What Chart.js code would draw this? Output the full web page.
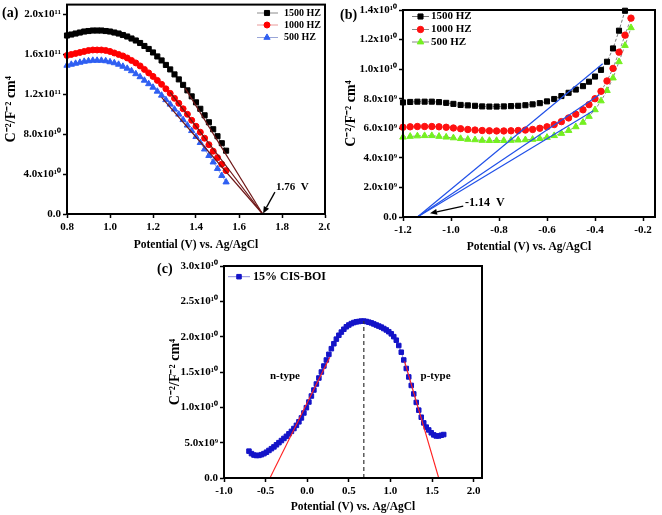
<!DOCTYPE html>
<html><head><meta charset="utf-8">
<script src="https://cdn.jsdelivr.net/npm/chart.js@4.4.1/dist/chart.umd.min.js"></script>
<style>
html,body{margin:0;padding:0;background:#fff;}
body{width:662px;height:515px;position:relative;overflow:hidden;}
canvas{position:absolute;}
.pl{position:absolute;font:bold 14px "Liberation Serif",serif;color:#000;line-height:1;}
</style></head><body>
<canvas id="ca" width="330" height="255" style="left:0;top:0"></canvas>
<canvas id="cb" width="332" height="255" style="left:330px;top:0"></canvas>
<canvas id="cc" width="350" height="260" style="left:150px;top:255px"></canvas>
<div class="pl" style="left:2px;top:6px">(a)</div>
<div class="pl" style="left:340px;top:8px">(b)</div>
<div class="pl" style="left:157px;top:262px">(c)</div>
<script>
// ---------- Panel (a) data (y in units of 1e11) ----------
const xA = [0.80,0.82,0.84,0.86,0.88,0.90,0.92,0.94,0.96,0.98,1.00,1.02,1.04,1.06,1.08,1.10,1.12,1.14,1.16,1.18,1.20,1.22,1.24,1.26,1.28,1.30,1.32,1.34,1.36,1.38,1.40,1.42,1.44,1.46,1.48,1.50,1.52,1.54];
const yA1500 = [1.79,1.80,1.81,1.82,1.83,1.835,1.84,1.84,1.84,1.835,1.83,1.82,1.81,1.795,1.78,1.76,1.74,1.715,1.685,1.655,1.62,1.58,1.54,1.495,1.45,1.40,1.35,1.295,1.24,1.18,1.12,1.055,0.99,0.92,0.85,0.78,0.71,0.635];
const yA1000 = [1.59,1.60,1.61,1.62,1.63,1.64,1.645,1.645,1.645,1.64,1.63,1.615,1.60,1.585,1.565,1.54,1.515,1.485,1.45,1.415,1.38,1.34,1.30,1.255,1.21,1.16,1.11,1.055,1.00,0.94,0.88,0.82,0.76,0.695,0.63,0.565,0.50,0.435];
const yA500 = [1.49,1.50,1.51,1.52,1.53,1.535,1.54,1.54,1.54,1.535,1.525,1.515,1.50,1.48,1.46,1.435,1.405,1.375,1.34,1.305,1.27,1.23,1.19,1.145,1.10,1.05,1.00,0.945,0.89,0.835,0.775,0.715,0.65,0.585,0.52,0.455,0.385,0.32];
const fitA = [[1.35,1.26,1.71,0],[1.28,1.22,1.71,0],[1.24,1.17,1.71,0]];
const xTicksA = [0.8,1.0,1.2,1.4,1.6,1.8,2.0];
const xLabelsA = ['0.8','1.0','1.2','1.4','1.6','1.8','2.0'];
const yTicksA = [0,0.4,0.8,1.2,1.6,2.0];
const yLabelsA = ['0.0','4.0x10¹⁰','8.0x10¹⁰','1.2x10¹¹','1.6x10¹¹','2.0x10¹¹'];

// ---------- Panel (b) data (y in units of 1e9) ----------
const xB = [-1.2,-1.17,-1.14,-1.11,-1.08,-1.05,-1.02,-0.99,-0.96,-0.93,-0.9,-0.87,-0.84,-0.81,-0.78,-0.75,-0.72,-0.69,-0.66,-0.63,-0.6,-0.57,-0.54,-0.51,-0.48,-0.45,-0.425,-0.4,-0.375,-0.35,-0.325,-0.3,-0.275,-0.25];
const yB1500 = [7.75,7.78,7.8,7.8,7.8,7.77,7.72,7.65,7.58,7.55,7.52,7.48,7.47,7.47,7.48,7.5,7.52,7.56,7.62,7.7,7.82,7.98,8.18,8.4,8.62,8.85,9.15,9.5,9.95,10.5,11.4,12.6,13.95];
const yB1000 = [6.07,6.1,6.12,6.12,6.12,6.1,6.07,6.02,5.97,5.92,5.88,5.85,5.83,5.82,5.82,5.83,5.85,5.88,5.92,6.0,6.1,6.25,6.45,6.7,6.95,7.25,7.6,8.0,8.5,9.2,10.05,11.15,12.3,13.45];
const yB500 = [5.4,5.45,5.48,5.5,5.5,5.45,5.4,5.35,5.3,5.25,5.22,5.18,5.17,5.17,5.17,5.18,5.2,5.22,5.25,5.3,5.38,5.5,5.65,5.85,6.1,6.4,6.8,7.25,7.85,8.55,9.4,10.5,11.6,12.8];
const fitB = [[-1.14,0,-0.368,10.37],[-1.14,0,-0.382,8.27],[-1.14,0,-0.407,7.19]];
const xTicksB = [-1.2,-1.0,-0.8,-0.6,-0.4,-0.2];
const xLabelsB = ['-1.2','-1.0','-0.8','-0.6','-0.4','-0.2'];
const yTicksB = [0,2,4,6,8,10,12,14];
const yLabelsB = ['0.0','2.0x10⁹','4.0x10⁹','6.0x10⁹','8.0x10⁹','1.0x10¹⁰','1.2x10¹⁰','1.4x10¹⁰'];

// ---------- Panel (c) data (y in units of 1e10) ----------
const xC = [-0.70,-0.67,-0.64,-0.61,-0.58,-0.55,-0.52,-0.49,-0.46,-0.43,-0.40,-0.37,-0.34,-0.31,-0.28,-0.25,-0.22,-0.19,-0.16,-0.13,-0.10,-0.07,-0.04,-0.01,0.02,0.05,0.08,0.11,0.14,0.17,0.20,0.23,0.26,0.29,0.32,0.35,0.38,0.41,0.44,0.47,0.50,0.53,0.56,0.59,0.62,0.65,0.68,0.71,0.74,0.77,0.80,0.83,0.86,0.89,0.92,0.95,0.98,1.01,1.04,1.07,1.10,1.13,1.16,1.19,1.22,1.25,1.28,1.31,1.34,1.37,1.40,1.43,1.46,1.49,1.52,1.55,1.58,1.61,1.64];
const yC = [0.38,0.345,0.325,0.318,0.32,0.33,0.345,0.365,0.39,0.415,0.44,0.47,0.50,0.53,0.56,0.59,0.625,0.66,0.70,0.745,0.795,0.85,0.92,0.995,1.075,1.16,1.245,1.33,1.415,1.50,1.585,1.67,1.75,1.83,1.90,1.965,2.02,2.065,2.105,2.14,2.165,2.185,2.20,2.21,2.215,2.22,2.22,2.215,2.205,2.195,2.18,2.165,2.15,2.135,2.115,2.095,2.07,2.04,2.0,1.95,1.875,1.78,1.67,1.55,1.43,1.31,1.19,1.07,0.96,0.86,0.78,0.72,0.68,0.64,0.61,0.595,0.595,0.605,0.615];
const fitC = [[-0.448,0,0.271,1.71],[1.17,1.65,1.58,0]];
const peakC = [0.68,0,0.68,2.22];
const xTicksC = [-1.0,-0.5,0.0,0.5,1.0,1.5,2.0];
const xLabelsC = ['-1.0','-0.5','0.0','0.5','1.0','1.5','2.0'];
const yTicksC = [0,0.5,1.0,1.5,2.0,2.5,3.0];
const yLabelsC = ['0.0','5.0x10⁹','1.0x10¹⁰','1.5x10¹⁰','2.0x10¹⁰','2.5x10¹⁰','3.0x10¹⁰'];

// ---------- helpers ----------
const SERIF = '"Liberation Serif", "Times New Roman", serif';
Chart.defaults.font.family = SERIF;
Chart.defaults.font.weight = 'bold';
Chart.defaults.color = '#000';
Chart.defaults.animation = false;

const pts = (xs, ys) => ys.map((y, i) => ({x: xs[i], y}));
function series(label, data, color, style, r, lineColor, dash) {
  return {label, data, borderColor: lineColor, borderWidth: 1, borderDash: dash || [],
    backgroundColor: color, pointStyle: style, pointRadius: r, pointHoverRadius: r,
    pointBackgroundColor: color, pointBorderColor: color, pointBorderWidth: 1,
    fill: false, tension: 0, order: 1, clip: false};
}
function seg(s, color, dash, w) {
  return {data: [{x: s[0], y: s[1]}, {x: s[2], y: s[3]}], borderColor: color, borderWidth: w || 1.2,
    borderDash: dash || [], pointRadius: 0, pointHoverRadius: 0, fill: false, order: 0, clip: false};
}
function xAxis(min, max, vals, labs, h, tb) {
  return {type: 'linear', position: 'bottom', min, max,
    afterBuildTicks: s => { s.ticks = vals.map(v => ({value: v})); },
    afterFit: s => { s.height = h; s.paddingLeft = 0; s.paddingRight = 0; },
    ticks: {autoSkip: false, maxRotation: 0, minRotation: 0, padding: 3, color: '#000',
      font: {size: 11, weight: 'bold'}, callback: (v, i) => labs[i]},
    grid: {drawOnChartArea: false, drawTicks: true, tickLength: 4, tickWidth: 1.5, tickColor: '#000'},
    border: {display: true, color: '#000', width: 2},
    title: {display: true, text: 'Potential (V) vs. Ag/AgCl', color: '#000',
      font: {size: 11.5, weight: 'bold'}, padding: {top: 0, bottom: tb}}};
}
function yAxis(min, max, vals, labs, w, tp) {
  return {type: 'linear', position: 'left', min, max,
    afterBuildTicks: s => { s.ticks = vals.map(v => ({value: v})); },
    afterFit: s => { s.width = w; s.paddingTop = 0; s.paddingBottom = 0; },
    ticks: {autoSkip: false, padding: 2, color: '#000', font: {size: 11, weight: 'bold'},
      callback: (v, i) => labs[i]},
    grid: {drawOnChartArea: false, drawTicks: true, tickLength: 4, tickWidth: 1.5, tickColor: '#000'},
    border: {display: true, color: '#000', width: 2},
    title: {display: true, text: 'C⁻²/F⁻² cm⁴', color: '#000',
      font: {size: 14, weight: 'bold'}, padding: {top: tp, bottom: 0}}};
}

const deco = {
  id: 'deco',
  afterDatasetsDraw(chart, args, o) {
    const ctx = chart.ctx, xs = chart.scales.x, ys = chart.scales.y, a = chart.chartArea;
    ctx.save();
    ctx.strokeStyle = '#000'; ctx.lineWidth = 2;
    ctx.strokeRect(a.left, a.top, a.right - a.left, a.bottom - a.top);
    (o.arrows || []).forEach(ar => {
      const x0 = xs.getPixelForValue(ar.from[0]), y0 = ys.getPixelForValue(ar.from[1]);
      const x1 = xs.getPixelForValue(ar.to[0]), y1 = ys.getPixelForValue(ar.to[1]);
      const ang = Math.atan2(y1 - y0, x1 - x0), hl = 7, hw = 3;
      const bx = x1 - hl * Math.cos(ang), by = y1 - hl * Math.sin(ang);
      ctx.strokeStyle = '#000'; ctx.fillStyle = '#000'; ctx.lineWidth = 1.3;
      ctx.beginPath(); ctx.moveTo(x0, y0); ctx.lineTo(bx, by); ctx.stroke();
      ctx.beginPath(); ctx.moveTo(x1, y1);
      ctx.lineTo(bx + hw * Math.sin(ang), by - hw * Math.cos(ang));
      ctx.lineTo(bx - hw * Math.sin(ang), by + hw * Math.cos(ang));
      ctx.closePath(); ctx.fill();
    });
    (o.texts || []).forEach(t => {
      ctx.font = t.font; ctx.fillStyle = '#000'; ctx.textAlign = t.align || 'left'; ctx.textBaseline = 'middle';
      ctx.fillText(t.text, xs.getPixelForValue(t.x), ys.getPixelForValue(t.y));
    });
    const L = o.legend;
    if (L) {
      L.rows.forEach((yy, k) => {
        const ds = chart.data.datasets[k];
        ctx.strokeStyle = ds.borderColor; ctx.lineWidth = 1; ctx.setLineDash([]);
        ctx.beginPath(); ctx.moveTo(L.x0, yy); ctx.lineTo(L.x1, yy); ctx.stroke();
        ctx.fillStyle = ds.pointBackgroundColor; ctx.strokeStyle = ds.pointBorderColor;
        Chart.helpers.drawPoint(ctx, {pointStyle: ds.pointStyle, rotation: 0, radius: ds.pointRadius, borderWidth: 1}, L.mx, yy);
        ctx.font = L.font; ctx.fillStyle = '#000'; ctx.textAlign = 'left'; ctx.textBaseline = 'middle';
        ctx.fillText(ds.label, L.tx, yy);
      });
    }
    ctx.restore();
  }
};
const basePlugins = extra => Object.assign({legend: {display: false}, tooltip: {enabled: false}}, {deco: extra});

// ---------- Chart (a) ----------
new Chart(document.getElementById('ca'), {
  type: 'line',
  data: {datasets: [
    series('1500 HZ', pts(xA, yA1500), '#000000', 'rect', 3.6, '#8c8c8c'),
    series('1000 HZ', pts(xA, yA1000), '#ff0000', 'circle', 3, '#e99a9a'),
    series('500 HZ', pts(xA, yA500), '#2f5ff2', 'triangle', 3.6, '#9aa6d8'),
    seg(fitA[0], '#6e1616'), seg(fitA[1], '#6e1616'), seg(fitA[2], '#6e1616')
  ]},
  options: {responsive: false, animation: false,
    layout: {padding: {left: 0, right: 5, top: 3, bottom: 0}},
    plugins: basePlugins({
      texts: [{x: 1.772, y: 0.269, text: '1.76  V', font: 'bold 11px ' + SERIF}],
      arrows: [{from: [1.767, 0.22], to: [1.712, 0.005]}],
      legend: {rows: [13, 25, 37.5], x0: 257, x1: 278, mx: 267, tx: 284, font: 'bold 10px ' + SERIF}
    }),
    scales: {x: xAxis(0.8, 2.0, xTicksA, xLabelsA, 41, 3), y: yAxis(0, 2.1, yTicksA, yLabelsA, 67, 3)}
  },
  plugins: [deco]
});

// ---------- Chart (b) ----------
new Chart(document.getElementById('cb'), {
  type: 'line',
  data: {datasets: [
    series('1500 HZ', pts(xB, yB1500), '#000000', 'rect', 3.6, '#777777', [3, 2]),
    series('1000 HZ', pts(xB, yB1000), '#ff1010', 'circle', 3.2, '#888888', [3, 2]),
    series('500 HZ', pts(xB, yB500), '#74f020', 'triangle', 3.8, '#888888', [3, 2]),
    seg(fitB[0], '#2050e8'), seg(fitB[1], '#2050e8'), seg(fitB[2], '#2050e8')
  ]},
  options: {responsive: false, animation: false,
    layout: {padding: {left: 0, right: 7, top: 10, bottom: 0}},
    plugins: basePlugins({
      texts: [{x: -0.942, y: 0.95, text: '-1.14  V', font: 'bold 12px ' + SERIF}],
      arrows: [{from: [-0.949, 0.74], to: [-1.0875, 0.25]}],
      legend: {rows: [16.5, 29.5, 42], x0: 82, x1: 99, mx: 90.5, tx: 101, font: 'bold 11px ' + SERIF}
    }),
    scales: {x: xAxis(-1.2, -0.15, xTicksB, xLabelsB, 38, 1), y: yAxis(0, 14, yTicksB, yLabelsB, 73, 13)}
  },
  plugins: [deco]
});

// ---------- Chart (c) ----------
new Chart(document.getElementById('cc'), {
  type: 'line',
  data: {datasets: [
    series('15% CIS-BOI', pts(xC, yC), '#1414c8', 'rect', 3.2, '#8c8cdc'),
    seg(fitC[0], '#ff2020', [], 1.1), seg(fitC[1], '#ff2020', [], 1.1),
    seg(peakC, '#333333', [4, 3], 1.2)
  ]},
  options: {responsive: false, animation: false,
    layout: {padding: {left: 0, right: 18, top: 11, bottom: 0}},
    plugins: basePlugins({
      texts: [{x: -0.268, y: 1.44, text: 'n-type', font: 'bold 11px ' + SERIF, align: 'center'},
              {x: 1.542, y: 1.44, text: 'p-type', font: 'bold 11px ' + SERIF, align: 'center'}],
      legend: {rows: [21.7], x0: 78, x1: 100, mx: 89, tx: 103, font: 'bold 12px ' + SERIF}
    }),
    scales: {x: xAxis(-1.0, 2.1, xTicksC, xLabelsC, 37, 1.4), y: yAxis(0, 3.0, yTicksC, yLabelsC, 74, 17)}
  },
  plugins: [deco]
});
</script>
</body></html>
